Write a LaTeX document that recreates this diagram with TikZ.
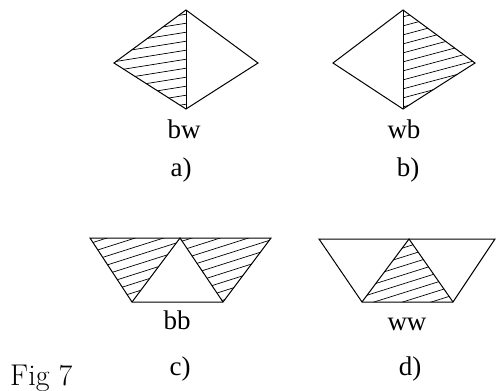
\documentclass[tikz,border=0pt]{standalone}
\usepackage{fontspec}
\setmainfont{Liberation Serif}
\newfontfamily\lmfont{Latin Modern Roman}
\begin{document}
\begin{tikzpicture}[x=1pt,y=-1pt,
  edge/.style={line width=1pt,line join=miter},
  hatch/.style={line width=0.7pt},
  lbl/.style={font=\fontsize{27}{27}\selectfont,anchor=base,inner sep=0pt}]
\useasboundingbox (0,0) rectangle (496,391);
% ---------- a) bw ----------
\coordinate (aT) at (186,10);
\coordinate (aL) at (114,63);
\coordinate (aB) at (186,109);
\coordinate (aR) at (258,63);
\begin{scope}
  \clip (aT) -- (aL) -- (aB) -- cycle;
  \foreach \k in {0,...,16} {
    \draw[hatch] (100,{10+9*\k}) -- (200,{10+9*\k-16});
  }
\end{scope}
\draw[edge] (aT) -- (aL) -- (aB) -- (aR) -- cycle;
\draw[edge] (aT) -- (aB);
\node[lbl] (abw) at (184,138) {bw};
\node[lbl] (alab) at (181,176) {a)};
% ---------- b) wb ----------
\coordinate (bT) at (403,10);
\coordinate (bL) at (333,63);
\coordinate (bB) at (403,109);
\coordinate (bR) at (475,63);
\begin{scope}
  \clip (bT) -- (bR) -- (bB) -- cycle;
  \foreach \k in {0,...,18} {
    \draw[hatch] (395,{10+9*\k}) -- (485,{10+9*\k-24});
  }
\end{scope}
\draw[edge] (bT) -- (bL) -- (bB) -- (bR) -- cycle;
\draw[edge] (bT) -- (bB);
\node[lbl] (bwb) at (404,138) {wb};
\node[lbl] (blab) at (408,176) {b)};
% ---------- c) bb ----------
\coordinate (cTL) at (90,238);
\coordinate (cTM) at (180,238);
\coordinate (cTR) at (271,238);
\coordinate (cBL) at (132,302);
\coordinate (cBR) at (223,302);
\begin{scope}
  \clip (cTL) -- (cTM) -- (cBL) -- cycle (cTM) -- (cTR) -- (cBR) -- cycle;
  \foreach \k in {0,...,22} {
    \draw[hatch] (85,{236+9*\k}) -- (280,{236+9*\k-62});
  }
\end{scope}
\draw[edge] (cTL) -- (cTR) -- (cBR) -- (cBL) -- cycle;
\draw[edge] (cBL) -- (cTM) -- (cBR);
\node[lbl] (cbb) at (177,329) {bb};
\node[lbl] (clab) at (180,375) {c)};
% ---------- d) ww ----------
\coordinate (dTL) at (319,239);
\coordinate (dTM) at (409,239);
\coordinate (dTR) at (495,239);
\coordinate (dBL) at (362,302);
\coordinate (dBR) at (453,302);
\begin{scope}
  \clip (dTM) -- (dBL) -- (dBR) -- cycle;
  \foreach \k in {0,...,14} {
    \draw[hatch] (355,{245+9*\k}) -- (460,{245+9*\k-33});
  }
\end{scope}
\draw[edge] (dTL) -- (dTR) -- (dBR) -- (dBL) -- cycle;
\draw[edge] (dBL) -- (dTM) -- (dBR);
\node[lbl] (dww) at (407,330) {ww};
\node[lbl] (dlab) at (410,375) {d)};
% ---------- caption ----------
\node[lbl,anchor=base west,font=\lmfont\fontsize{30}{30}\selectfont] (fig) at (10,385) {Fig 7};
\end{tikzpicture}
\end{document}
